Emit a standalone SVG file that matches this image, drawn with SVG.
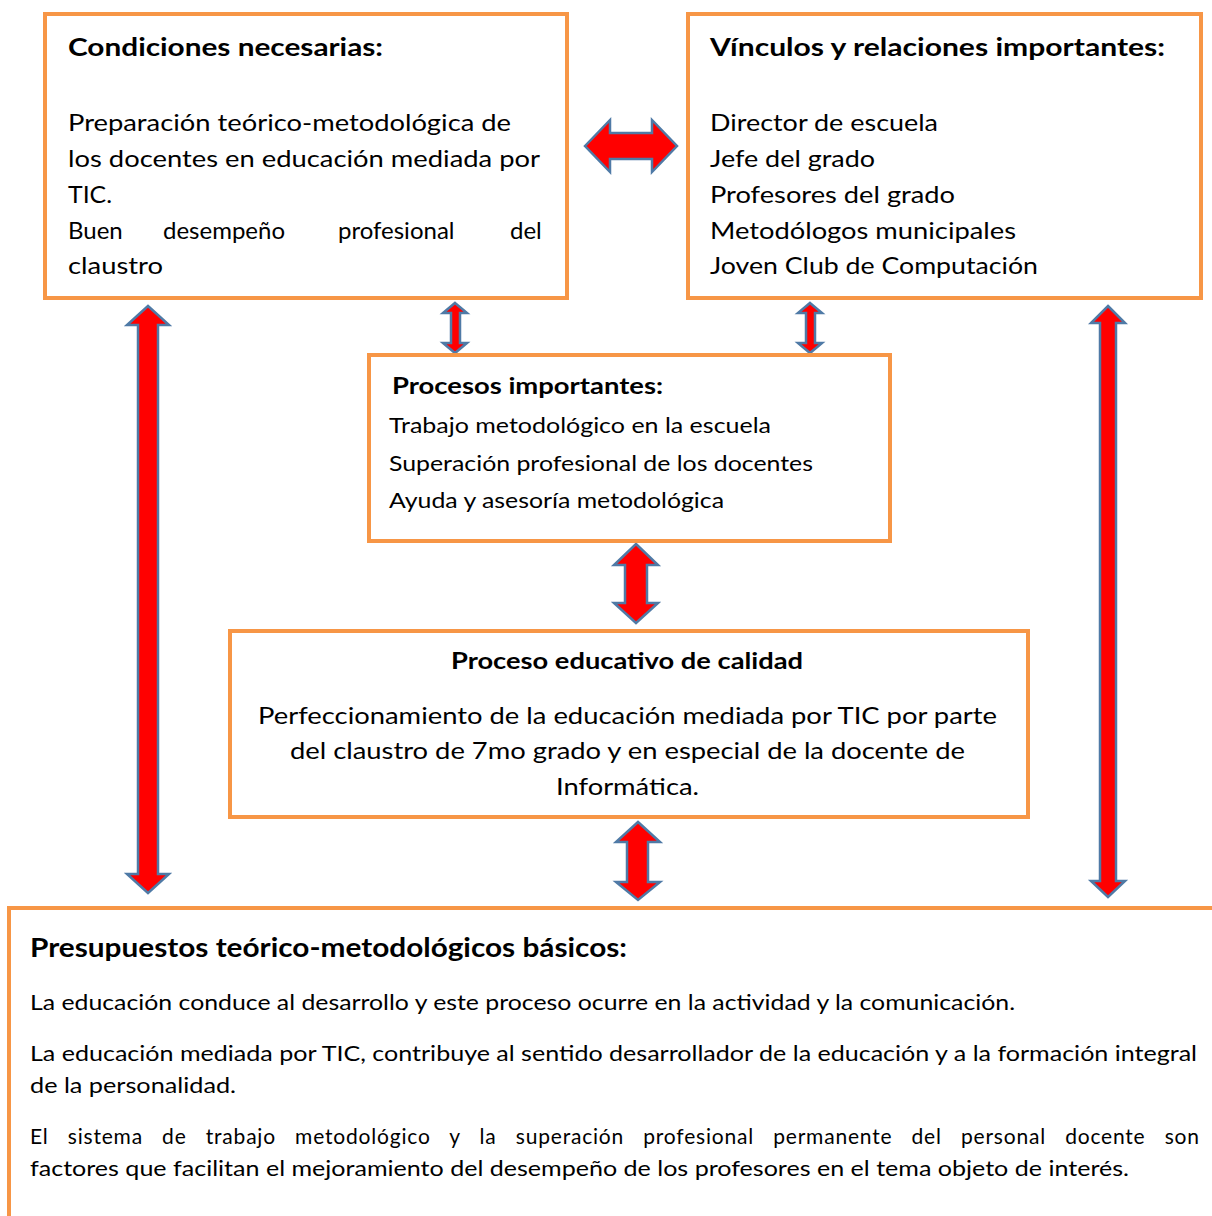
<svg xmlns="http://www.w3.org/2000/svg" width="1212" height="1216" viewBox="0 0 1212 1216">
<style>
.box{fill:#fff;stroke:#F79646;stroke-width:4}
.arr{fill:#FF0000;stroke:#4F7AA6;stroke-width:2.5;stroke-linejoin:miter}
text{font-family:Lato,"Open Sans","Liberation Sans",sans-serif;fill:#000}
.t{font-weight:bold;font-size:25px}
.b{font-size:24px}
.s{font-size:21px}
</style>
<rect width="1212" height="1216" fill="#fff"/>
<g id="connectors">
<path class="arr" d="M585,146 L610,120 L610,133 L652,133 L652,120 L677,146 L652,172 L652,159 L610,159 L610,172 Z"/>
<path class="arr" d="M455,303 L467,313 L460,313 L460,343 L467,343 L455,353 L443,343 L451,343 L451,313 L443,313 Z"/>
<path class="arr" d="M810,303 L822,313 L815,313 L815,343 L822,343 L810,353 L798,343 L806,343 L806,313 L798,313 Z"/>
<path class="arr" d="M148,306 L169,325 L158,325 L158,874 L169,874 L148,893 L127,874 L138,874 L138,325 L127,325 Z"/>
<path class="arr" d="M1108,306 L1125,323 L1116,323 L1116,881 L1125,881 L1108,897 L1091,881 L1100,881 L1100,323 L1091,323 Z"/>
<path class="arr" d="M636,544 L658,565 L647,565 L647,603 L658,603 L636,623 L614,603 L625,603 L625,565 L614,565 Z"/>
<path class="arr" d="M638,822 L660,842 L648,842 L648,882 L660,882 L638,900 L616,882 L627,882 L627,842 L616,842 Z"/>
</g>
<g id="condiciones">
<rect class="box" x="45" y="14" width="522" height="284"/>
<text class="t" x="68" y="56" textLength="315" lengthAdjust="spacingAndGlyphs">Condiciones necesarias:</text>
<text class="b" x="68" y="131" textLength="443" lengthAdjust="spacingAndGlyphs">Preparación teórico-metodológica de</text>
<text class="b" x="68" y="167" textLength="472" lengthAdjust="spacingAndGlyphs">los docentes en educación mediada por</text>
<text class="b" x="68" y="203" textLength="44" lengthAdjust="spacingAndGlyphs">TIC.</text>
<text class="b" y="239"><tspan x="68">Buen</tspan> <tspan x="163">desempeño</tspan> <tspan x="338">profesional</tspan> <tspan x="510">del</tspan></text>
<text class="b" x="68" y="274" textLength="95" lengthAdjust="spacingAndGlyphs">claustro</text>
</g>
<g id="vinculos">
<rect class="box" x="688" y="14" width="513" height="284"/>
<text class="t" x="710" y="56" textLength="455" lengthAdjust="spacingAndGlyphs">Vínculos y relaciones importantes:</text>
<text class="b" x="710" y="131" textLength="228" lengthAdjust="spacingAndGlyphs">Director de escuela</text>
<text class="b" x="710" y="167" textLength="165" lengthAdjust="spacingAndGlyphs">Jefe del grado</text>
<text class="b" x="710" y="203" textLength="245" lengthAdjust="spacingAndGlyphs">Profesores del grado</text>
<text class="b" x="710" y="239" textLength="306" lengthAdjust="spacingAndGlyphs">Metodólogos municipales</text>
<text class="b" x="710" y="274" textLength="328" lengthAdjust="spacingAndGlyphs">Joven Club de Computación</text>
</g>
<g id="procesos">
<rect class="box" x="369" y="355" width="521" height="186"/>
<text class="t" x="392" y="394" style="font-size:23px" textLength="271" lengthAdjust="spacingAndGlyphs">Procesos importantes:</text>
<text class="s" x="389" y="433" textLength="382" lengthAdjust="spacingAndGlyphs">Trabajo metodológico en la escuela</text>
<text class="s" x="389" y="471" textLength="424" lengthAdjust="spacingAndGlyphs">Superación profesional de los docentes</text>
<text class="s" x="389" y="508" textLength="335" lengthAdjust="spacingAndGlyphs">Ayuda y asesoría metodológica</text>
</g>
<g id="proceso-educativo">
<rect class="box" x="230" y="631" width="798" height="186"/>
<text class="t" x="451" y="669" style="font-size:23px" textLength="352" lengthAdjust="spacingAndGlyphs">Proceso educativo de calidad</text>
<text class="b" x="258" y="724" textLength="739" lengthAdjust="spacingAndGlyphs">Perfeccionamiento de la educación mediada por TIC por parte</text>
<text class="b" x="290" y="759" textLength="675" lengthAdjust="spacingAndGlyphs">del claustro de 7mo grado y en especial de la docente de</text>
<text class="b" x="556" y="795" textLength="143" lengthAdjust="spacingAndGlyphs">Informática.</text>
</g>
<g id="presupuestos">
<rect class="box" x="9" y="908" width="1220" height="330"/>
<text class="t" x="30" y="957" style="font-size:26px" textLength="597" lengthAdjust="spacingAndGlyphs">Presupuestos teórico-metodológicos básicos:</text>
<text class="s" x="30" y="1010" textLength="985" lengthAdjust="spacingAndGlyphs">La educación conduce al desarrollo y este proceso ocurre en la actividad y la comunicación.</text>
<text class="s" x="30" y="1061" textLength="1167" lengthAdjust="spacingAndGlyphs">La educación mediada por TIC, contribuye al sentido desarrollador de la educación y a la formación integral</text>
<text class="s" x="30" y="1093" textLength="206" lengthAdjust="spacingAndGlyphs">de la personalidad.</text>
<text class="s" x="30" y="1144" word-spacing="13" textLength="1169" lengthAdjust="spacing">El sistema de trabajo metodológico y la superación profesional permanente del personal docente son</text>
<text class="s" x="30" y="1176" textLength="1099" lengthAdjust="spacingAndGlyphs">factores que facilitan el mejoramiento del desempeño de los profesores en el tema objeto de interés.</text>
</g>
</svg>
